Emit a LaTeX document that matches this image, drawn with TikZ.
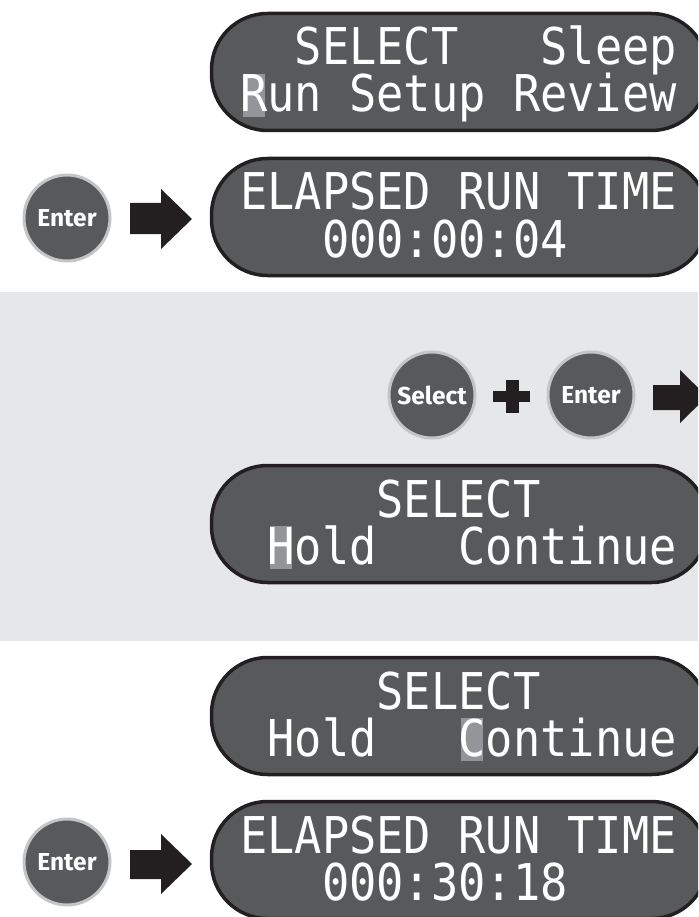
\documentclass[tikz,border=0pt]{standalone}
\usepackage{fontspec}
\setmainfont{Fira Sans}
\newfontfamily\lcd[FakeStretch=0.894]{DejaVu Sans Mono}
\definecolor{band}{HTML}{E6E7E8}
\definecolor{lcdfill}{HTML}{58595B}
\definecolor{lcdborder}{HTML}{231F20}
\definecolor{ring}{HTML}{C4C5C7}
\definecolor{cursorgray}{HTML}{939598}
\begin{document}
\begin{tikzpicture}[x=1pt,y=-1pt,
  display/.style={draw=lcdborder, line width=3.5pt, fill=lcdfill, rounded corners=56pt,
    minimum width=496pt, minimum height=117pt, inner sep=0pt},
  lcdtext/.style={text=white, font=\lcd\fontsize{50.7}{50.7}\selectfont, anchor=base west, inner sep=0pt},
  button/.style={circle, fill=lcdfill, draw=ring, line width=3pt, minimum size=86pt, inner sep=0pt,
    text=white, font=\bfseries\fontsize{24.5}{24.5}\selectfont},
  blockarrow/.style={fill=lcdborder},
  cursorbox/.style={fill=cursorgray}
]
\useasboundingbox (0,0) rectangle (698,917);
\clip (0,0) rectangle (698,917);
\fill[band] (0,292) rectangle (698,641);

% ---------- display 1 ----------
\node[display] (disp1) at (459.5,72) {};
\fill[cursorbox] (243,74) rectangle (265,117);
\node[lcdtext] (d1sel) at (240+2*27.3,65) {SELECT};
\node[lcdtext] (d1slp) at (240+11*27.3,65) {Sleep};
\node[lcdtext] (d1run) at (240,112) {Run Setup Review};

% ---------- Enter -> display 2 ----------
\node[button] (enter1) at (67,218) {Enter};
\fill[blockarrow] (130,203) -- (161,203) -- (161,189) -- (192,219) -- (161,249) -- (161,234) -- (130,234) -- cycle;
\node[display] (disp2) at (459.5,217) {};
\node[lcdtext] (d2a) at (240,210) {ELAPSED RUN TIME};
\node[lcdtext] (d2b) at (240+3*27.3,257) {000:00:04};

% ---------- band: Select + Enter -> ----------
\node[button] (select2) at (432,395) {Select};
\fill[blockarrow] (493,390.5) rectangle (530,401.5);
\fill[blockarrow] (505.5,380) rectangle (518.5,413);
\node[button] (enter2) at (591,395) {Enter};
\fill[blockarrow] (653,385) -- (680,385) -- (680,370) -- (707,396.5) -- (680,423) -- (680,410) -- (653,410) -- cycle;

% ---------- display 3 ----------
\node[display] (disp3) at (459.5,524) {};
\fill[cursorbox] (243+27.3,526) rectangle (265+27.3,569);
\node[lcdtext] (d3sel) at (240+5*27.3,517) {SELECT};
\node[lcdtext] (d3hold) at (240+1*27.3,564) {Hold};
\node[lcdtext] (d3cont) at (240+8*27.3,564) {Continue};

% ---------- display 4 ----------
\node[display] (disp4) at (459.5,716) {};
\fill[cursorbox] (243+8*27.3,718) rectangle (265+8*27.3,761);
\node[lcdtext] (d4sel) at (240+5*27.3,709) {SELECT};
\node[lcdtext] (d4hold) at (240+1*27.3,756) {Hold};
\node[lcdtext] (d4cont) at (240+8*27.3,756) {Continue};

% ---------- Enter -> display 5 ----------
\node[button] (enter3) at (67,862) {Enter};
\fill[blockarrow] (130,850) -- (161,850) -- (161,834) -- (192,864) -- (161,894) -- (161,879) -- (130,879) -- cycle;
\node[display] (disp5) at (459.5,860) {};
\node[lcdtext] (d5a) at (240,853) {ELAPSED RUN TIME};
\node[lcdtext] (d5b) at (240+3*27.3,900) {000:30:18};
\end{tikzpicture}
\end{document}
